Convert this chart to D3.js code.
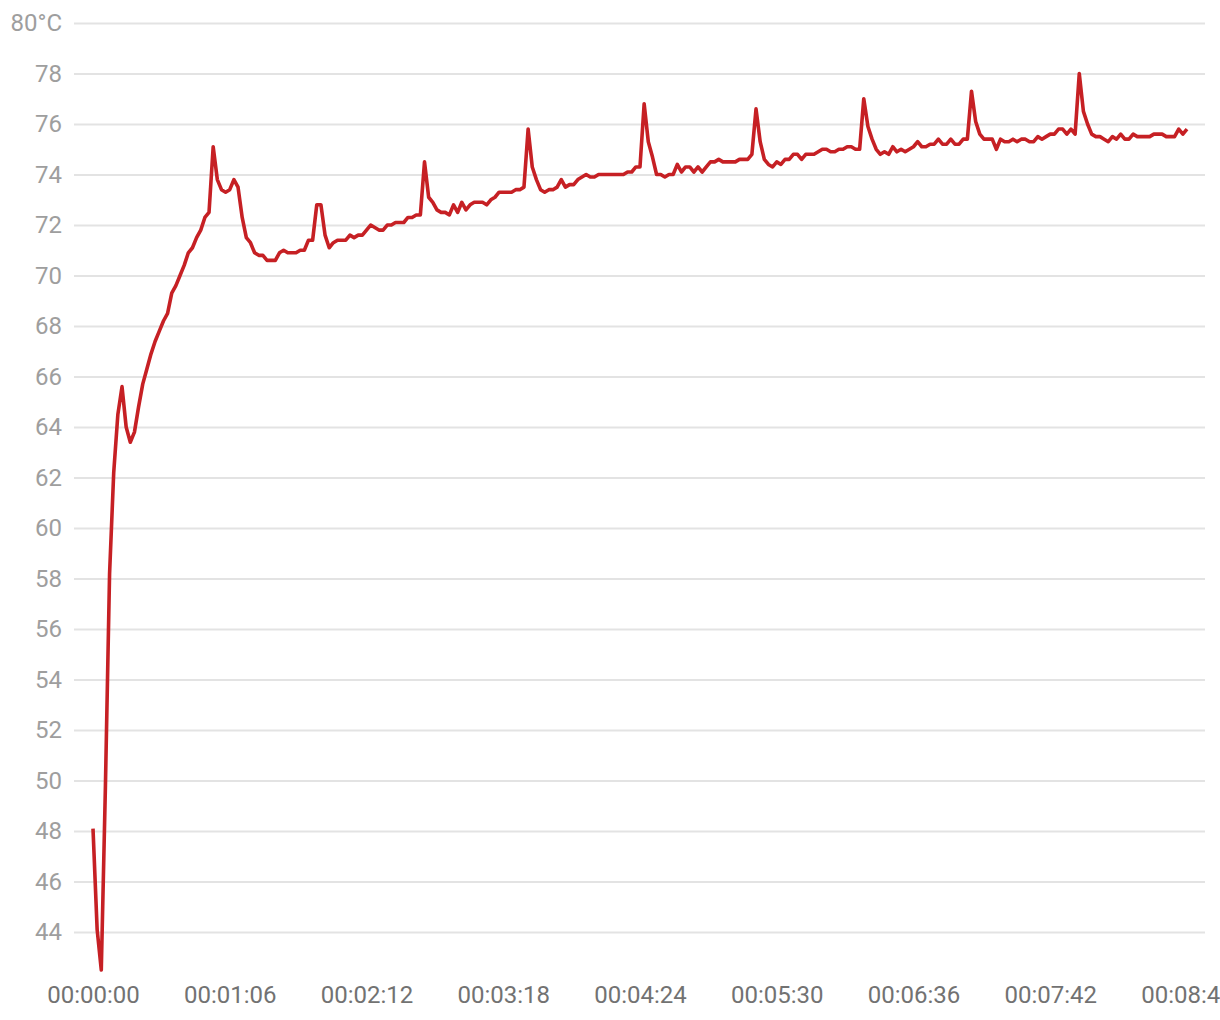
<!DOCTYPE html>
<html>
<head>
<meta charset="utf-8">
<script src="https://cdn.jsdelivr.net/npm/d3@7"></script>
<style>
  html, body { margin: 0; padding: 0; background: #ffffff; }
  svg { display: block; }
  text { font-family: Roboto, "Noto Sans", sans-serif; }
</style>
</head>
<body>
<svg id="chart" width="1220" height="1020"></svg>
<script>
// Sample interval in seconds
const sampleSeconds = 2;

// Temperature readings (°C), one every 2 seconds
const temperatures = [
  48.1, 44.1, 42.5, 49.8, 58.2, 62.2, 64.5, 65.6, 64.0, 63.4,
  63.8, 64.8, 65.7, 66.3, 66.9, 67.4, 67.8, 68.2, 68.5, 69.3,
  69.6, 70.0, 70.4, 70.9, 71.1, 71.5, 71.8, 72.3, 72.5, 75.1,
  73.8, 73.4, 73.3, 73.4, 73.8, 73.5, 72.3, 71.5, 71.3, 70.9,
  70.8, 70.8, 70.6, 70.6, 70.6, 70.9, 71.0, 70.9, 70.9, 70.9,
  71.0, 71.0, 71.4, 71.4, 72.8, 72.8, 71.6, 71.1, 71.3, 71.4,
  71.4, 71.4, 71.6, 71.5, 71.6, 71.6, 71.8, 72.0, 71.9, 71.8,
  71.8, 72.0, 72.0, 72.1, 72.1, 72.1, 72.3, 72.3, 72.4, 72.4,
  74.5, 73.1, 72.9, 72.6, 72.5, 72.5, 72.4, 72.8, 72.5, 72.9,
  72.6, 72.8, 72.9, 72.9, 72.9, 72.8, 73.0, 73.1, 73.3, 73.3,
  73.3, 73.3, 73.4, 73.4, 73.5, 75.8, 74.3, 73.8, 73.4, 73.3,
  73.4, 73.4, 73.5, 73.8, 73.5, 73.6, 73.6, 73.8, 73.9, 74.0,
  73.9, 73.9, 74.0, 74.0, 74.0, 74.0, 74.0, 74.0, 74.0, 74.1,
  74.1, 74.3, 74.3, 76.8, 75.3, 74.7, 74.0, 74.0, 73.9, 74.0,
  74.0, 74.4, 74.1, 74.3, 74.3, 74.1, 74.3, 74.1, 74.3, 74.5,
  74.5, 74.6, 74.5, 74.5, 74.5, 74.5, 74.6, 74.6, 74.6, 74.8,
  76.6, 75.3, 74.6, 74.4, 74.3, 74.5, 74.4, 74.6, 74.6, 74.8,
  74.8, 74.6, 74.8, 74.8, 74.8, 74.9, 75.0, 75.0, 74.9, 74.9,
  75.0, 75.0, 75.1, 75.1, 75.0, 75.0, 77.0, 75.9, 75.4, 75.0,
  74.8, 74.9, 74.8, 75.1, 74.9, 75.0, 74.9, 75.0, 75.1, 75.3,
  75.1, 75.1, 75.2, 75.2, 75.4, 75.2, 75.2, 75.4, 75.2, 75.2,
  75.4, 75.4, 77.3, 76.1, 75.6, 75.4, 75.4, 75.4, 75.0, 75.4,
  75.3, 75.3, 75.4, 75.3, 75.4, 75.4, 75.3, 75.3, 75.5, 75.4,
  75.5, 75.6, 75.6, 75.8, 75.8, 75.6, 75.8, 75.6, 78.0, 76.5,
  76.0, 75.6, 75.5, 75.5, 75.4, 75.3, 75.5, 75.4, 75.6, 75.4,
  75.4, 75.6, 75.5, 75.5, 75.5, 75.5, 75.6, 75.6, 75.6, 75.5,
  75.5, 75.5, 75.8, 75.6, 75.8
];

// X axis ticks (seconds) and labels
const xTickSeconds = [0, 66, 132, 198, 264, 330, 396, 462, 528];
const xTickLabels = ["00:00:00", "00:01:06", "00:02:12", "00:03:18", "00:04:24",
                     "00:05:30", "00:06:36", "00:07:42", "00:08:48"];

// Y axis ticks and labels
const yTickValues = [44, 46, 48, 50, 52, 54, 56, 58, 60, 62, 64, 66, 68, 70, 72, 74, 76, 78, 80];
const yTickLabels = ["44", "46", "48", "50", "52", "54", "56", "58", "60", "62",
                     "64", "66", "68", "70", "72", "74", "76", "78", "80°C"];

const yMin = 42.5, yMax = 80;

const data = temperatures.map((v, i) => ({ t: i * sampleSeconds, v }));

const svg = d3.select("#chart");

const gridLeft = 74, gridRight = 1205;
const x = d3.scaleLinear().domain([0, 528]).range([93, 1187]);
const y = d3.scaleLinear().domain([yMin, yMax]).range([970, 23]);

// Grid lines + y labels via axis
const yAxis = d3.axisLeft(y)
  .tickValues(yTickValues)
  .tickSize(-(gridRight - gridLeft))
  .tickPadding(12)
  .tickFormat((d, i) => yTickLabels[i]);

const gy = svg.append("g")
  .attr("transform", `translate(${gridLeft},0)`)
  .call(yAxis);
gy.select(".domain").remove();
gy.selectAll(".tick line").attr("stroke", "#e3e3e3").attr("stroke-width", 2);
gy.selectAll(".tick text")
  .attr("fill", "#9e9e9e")
  .style("font-size", "24px")
  .attr("x", -12);

// X axis labels
const xAxis = d3.axisBottom(x)
  .tickValues(xTickSeconds)
  .tickSize(0)
  .tickPadding(0)
  .tickFormat((d, i) => xTickLabels[i]);

const gx = svg.append("g")
  .attr("transform", `translate(0,986)`)
  .call(xAxis);
gx.select(".domain").remove();
gx.selectAll(".tick text")
  .attr("fill", "#727272")
  .style("font-size", "24px");

// Line
const line = d3.line()
  .x(d => x(d.t))
  .y(d => y(d.v))
  .curve(d3.curveLinear);

svg.append("path")
  .datum(data)
  .attr("fill", "none")
  .attr("stroke", "#c62024")
  .attr("stroke-width", 3.6)
  .attr("stroke-linejoin", "round")
  .attr("stroke-linecap", "butt")
  .attr("d", line);
</script>
</body>
</html>
